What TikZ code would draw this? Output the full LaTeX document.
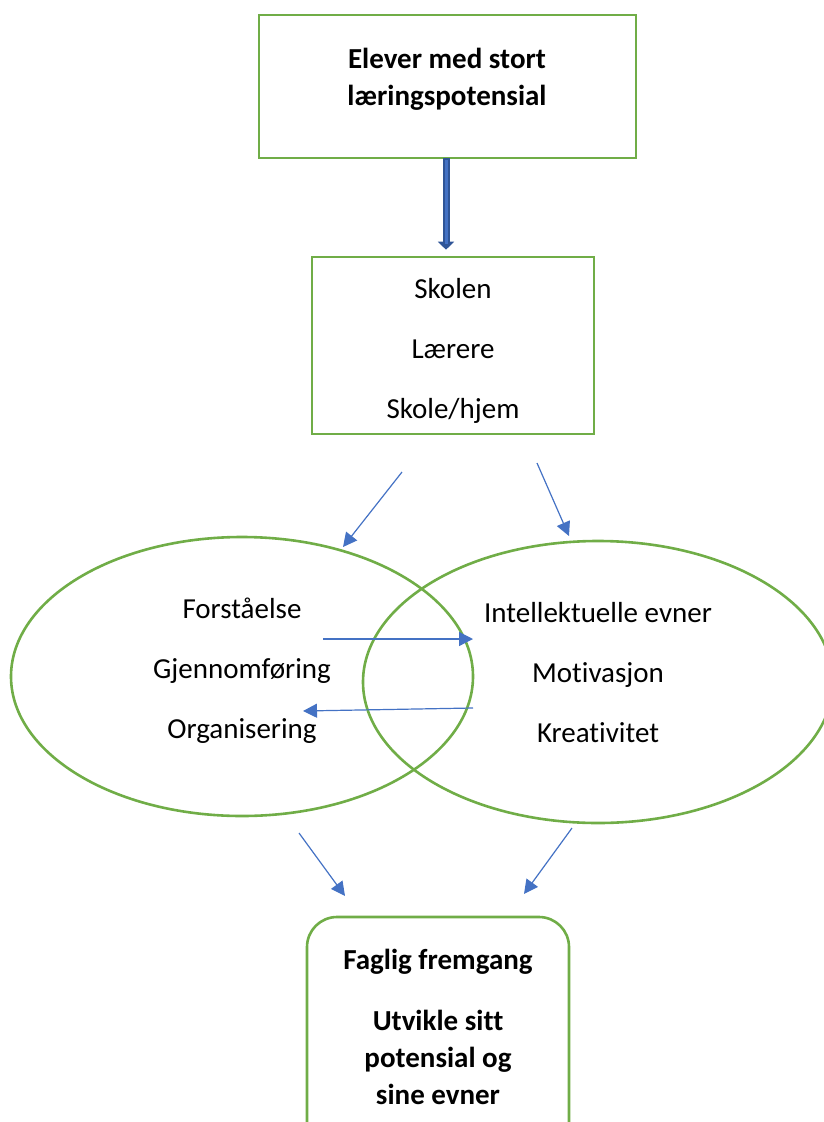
\documentclass[tikz,border=0pt]{standalone}
\usepackage{fontspec}
\setmainfont[Ligatures=NoCommon]{Carlito}
\usetikzlibrary{arrows.meta, positioning, shapes.geometric}
\definecolor{boxGreen}{HTML}{70AD47}
\definecolor{arrowBlue}{HTML}{4472C4}
\definecolor{arrowDark}{HTML}{2F5597}

\begin{document}
\begin{tikzpicture}[x=1pt, y=-1pt,
    greenbox/.style={draw=boxGreen, line width=2.6pt, inner sep=0pt},
    txt/.style={align=center, font=\fontsize{29}{60}\selectfont},
    boldtxt/.style={align=center, font=\fontsize{29}{37}\selectfont\bfseries},
    thin/.style={-{Triangle[length=14pt, width=14pt]}, line width=1.2pt, arrowBlue}]
    \useasboundingbox (0,0) rectangle (824,1122);
    \clip (0,0) rectangle (824,1122);

    % boxes
    \node[greenbox, minimum width=377, minimum height=143] (elever) at (447.5,86.5) {};
    \node[boldtxt] (eleverText) at (447,79) {Elever med stort\\læringspotensial};
    \node[greenbox, minimum width=282, minimum height=177] (skolen) at (453,345.5) {};
    \node[txt] (skolenText) at (453,350.5) {Skolen\\Lærere\\Skole/hjem};

    % ellipses
    \node[greenbox, ellipse, minimum width=462, minimum height=279] (venstre) at (242,676.5) {};
    \node[greenbox, ellipse, minimum width=470, minimum height=282] (hoyre) at (598,682) {};
    \node[txt] (venstreText) at (242,671) {Forståelse\\Gjennomføring\\Organisering};
    \node[txt] (hoyreText) at (598,673) {Intellektuelle evner\\Motivasjon\\Kreativitet};

    % result
    \node[greenbox, rounded corners=30pt, minimum width=262, minimum height=240] (fremgang) at (438,1037) {};
    \node[boldtxt] (fremgangText) at (438,1027) {Faglig fremgang\\[24pt]Utvikle sitt\\potensial og\\sine evner};

    % thick arrow
    \coordinate (pilTopp) at (446,158);
    \draw[-{Triangle[length=8pt, width=16pt]}, line width=7pt, arrowDark, shorten >=6pt] (pilTopp) -- (pilTopp |- skolen.north);
    \draw[line width=3pt, arrowBlue, shorten >=12pt, shorten <=2pt] (pilTopp) -- (pilTopp |- skolen.north);

    % thin arrows
    \coordinate (sL) at (402,472);
    \coordinate (eL) at (343,547);
    \coordinate (sR) at (537,463);
    \coordinate (eR) at (569,536);
    \coordinate (mA) at (323,639);
    \coordinate (mB) at (473,639);
    \coordinate (mC) at (473,708);
    \coordinate (mD) at (303,711);
    \coordinate (bL) at (299,833);
    \coordinate (bLe) at (345,896);
    \coordinate (bR) at (572,828);
    \coordinate (bRe) at (524,894);
    \draw[thin] (sL) -- (eL);
    \draw[thin] (sR) -- (eR);
    \draw[thin] (mA) -- (mB);
    \draw[thin] (mC) -- (mD);
    \draw[thin] (bL) -- (bLe);
    \draw[thin] (bR) -- (bRe);
\end{tikzpicture}
\end{document}
